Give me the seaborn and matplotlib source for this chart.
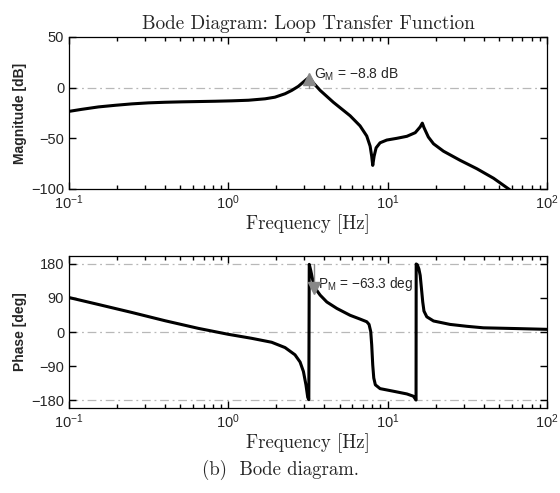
import matplotlib
matplotlib.use("Agg")
import matplotlib.pyplot as plt
from matplotlib.ticker import LogLocator, NullFormatter
import seaborn as sns
import numpy as np

# magnitude curve
mag_freq = [0.1, 0.120, 0.153, 0.195, 0.248, 0.315, 0.401, 0.509, 0.648, 0.826,
            1.05, 1.34, 1.70, 1.96, 2.27, 2.50, 2.75, 2.96, 3.10, 3.21,
            3.23, 3.42, 3.77, 4.56, 5.81, 6.71, 7.39, 7.76, 7.94, 8.06,
            8.22, 8.46, 8.96, 9.87, 11.4, 13.2, 14.9, 16.0, 16.5, 16.9,
            18.0, 19.4, 22.4, 28.5, 36.3, 46.2, 58.7, 100]
mag_db = [-23.4, -21.4, -19.0, -17.4, -16.0, -15.0, -14.4, -14.0, -13.7, -13.4,
          -13.0, -12.4, -11.0, -9.4, -6.0, -2.7, 1.3, 5.6, 8.3, 10.0,
          10.4, 4.6, -2.7, -14.4, -27.7, -37.7, -47.7, -57.7, -67.7, -76.7,
          -67.7, -59.4, -54.4, -51.7, -50.0, -48.0, -44.4, -38.7, -35.0, -39.4,
          -48.7, -55.4, -62.7, -71.7, -80.0, -89.4, -101, -128]

# phase curve (wrapped to +-180)
ph_freq = [0.1, 0.153, 0.248, 0.401, 0.648, 1.0, 1.40, 1.87, 2.27, 2.62,
           2.82, 2.96, 3.07, 3.15, 3.20, 3.22, 3.29, 3.39, 3.50, 3.77,
           4.15, 4.80, 5.81, 6.71, 7.39, 7.64, 7.83, 7.94, 8.06, 8.18,
           8.37, 8.96, 10.9, 13.2, 14.5, 15.07, 15.10, 15.35, 15.7, 16.0,
           16.3, 16.6, 16.9, 17.6, 19.4, 24.6, 31.4, 39.9, 64.6, 100]
ph_deg = [90.7, 72.4, 51.4, 29.6, 9.6, -6.1, -16.6, -27, -41, -60,
          -79, -104, -139, -172, -178, 178, 162, 136, 116, 97,
          79, 62, 44, 34, 27, 20, 1, -34, -87, -121,
          -139, -149, -156, -163, -169, -179, 179, 177, 166, 149,
          114, 79, 55, 40, 29, 20, 15, 11, 9, 7]

# margins
gm_freq, gm_db = 3.2, 8.8
pm_freq, pm_deg = 3.45, 116.7
gm_text = r"G$_\mathregular{M}$ = $-$8.8 dB"
pm_text = r"P$_\mathregular{M}$ = $-$63.3 deg"

mag_ticks = [-100, -50, 0, 50]
ph_ticks = [-180, -90, 0, 90, 180]

sns.set_style("ticks", {"axes.axisbelow": False})
plt.rcParams["font.family"] = ["Liberation Sans", "DejaVu Sans"]
plt.rcParams["mathtext.fontset"] = "custom"
plt.rcParams["mathtext.rm"] = "Liberation Sans"
plt.rcParams["mathtext.it"] = "Liberation Sans:italic"
plt.rcParams["axes.unicode_minus"] = True

fig = plt.figure(figsize=(5.6, 4.93), dpi=100)
ax1 = fig.add_axes([69 / 560, 1 - 189 / 493, 478 / 560, 152 / 493])
ax2 = fig.add_axes([69 / 560, 1 - 408 / 493, 478 / 560, 152 / 493])

ref_style = dict(color="#b8b8b8", lw=0.9, ls=(0, (7, 3, 1.5, 3)), zorder=1)
serif = "cmr10"

sns.lineplot(x=mag_freq, y=mag_db, ax=ax1, sort=False, estimator=None,
             color="black", lw=2.2, zorder=3)
ax1.axhline(0, **ref_style)
ax1.plot([gm_freq, gm_freq], [0, gm_db], color="#888888", lw=1, zorder=4)
ax1.plot([gm_freq], [gm_db], marker="^", color="#888888", ms=8, zorder=5)
ax1.text(3.45, 13, gm_text, fontsize=10, va="center", ha="left")
ax1.set_ylim(-100, 50)
ax1.set_yticks(mag_ticks)
ax1.set_ylabel("Magnitude [dB]", fontsize=10, fontweight="bold", labelpad=3)
ax1.set_title("Bode Diagram: Loop Transfer Function", fontsize=13.8, family=serif, pad=6)

sns.lineplot(x=ph_freq, y=ph_deg, ax=ax2, sort=False, estimator=None,
             color="black", lw=2.2, zorder=3)
for v in (180, 0, -180):
    ax2.axhline(v, **ref_style)
ax2.plot([pm_freq, pm_freq], [180, pm_deg], color="#888888", lw=1, zorder=4)
ax2.plot([pm_freq], [pm_deg], marker="v", color="#888888", ms=8, zorder=5)
ax2.text(3.67, 127, pm_text, fontsize=9.8, va="center", ha="left")
ax2.set_ylim(-200, 200)
ax2.set_yticks(ph_ticks)
ax2.set_ylabel("Phase [deg]", fontsize=10, fontweight="bold", labelpad=3)

for ax in (ax1, ax2):
    ax.set_xscale("log")
    ax.set_xlim(0.1, 100)
    ax.xaxis.set_major_locator(LogLocator(base=10, numticks=10))
    ax.xaxis.set_minor_locator(LogLocator(base=10, subs=np.arange(2, 10) * 1.0, numticks=100))
    ax.xaxis.set_minor_formatter(NullFormatter())
    for s in ax.spines.values():
        s.set_linewidth(0.9)
        s.set_color("black")
    ax.set_xlabel("Frequency [Hz]", fontsize=13.5, family=serif, labelpad=1)
    ax.tick_params(which="both", direction="in", top=True, right=True,
                   color="black", length=5, width=1.0)
    ax.tick_params(which="minor", length=3)
    ax.tick_params(labelsize=10.5)

fig.text(0.5, 1 - 470 / 493, "(b)  Bode diagram.", fontsize=13.5, family=serif,
         ha="center", va="center")

fig.savefig("out.png", dpi=100)
